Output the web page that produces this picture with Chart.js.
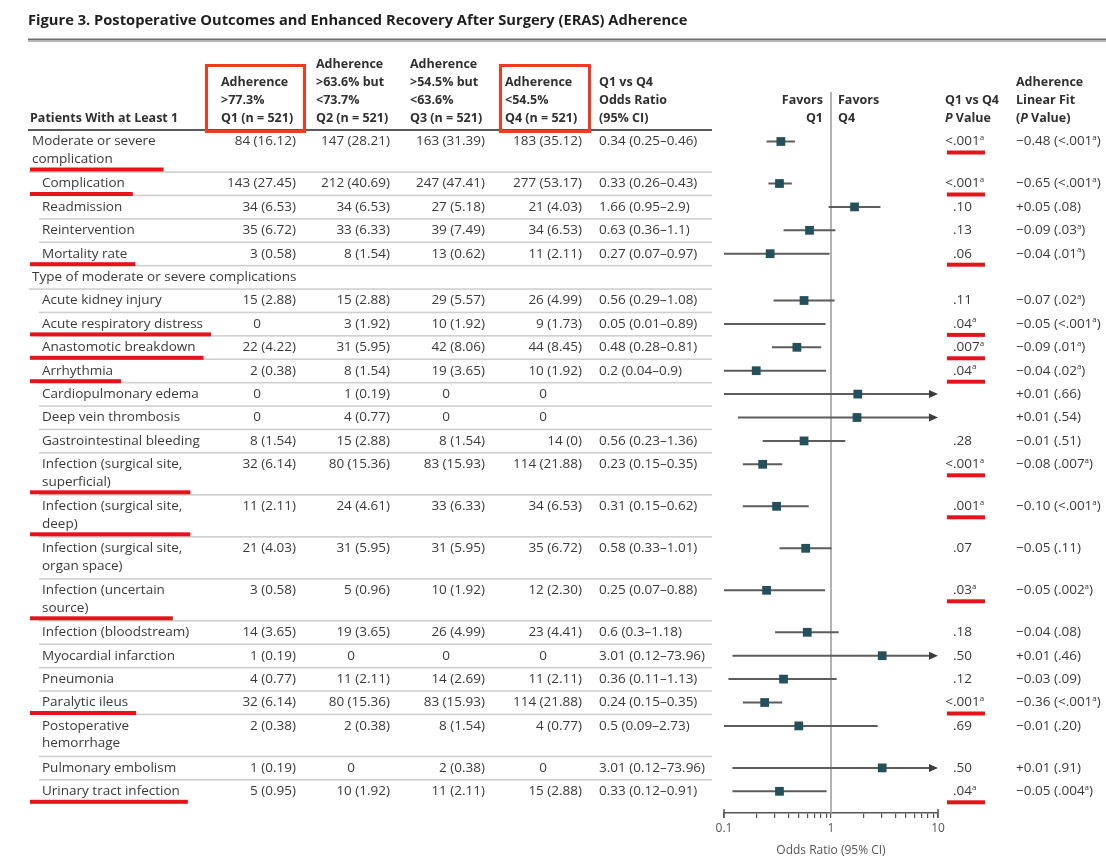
<!DOCTYPE html>
<html>
<head>
<meta charset="utf-8">
<title>Figure 3. Postoperative Outcomes and ERAS Adherence</title>
<script src="https://cdn.jsdelivr.net/npm/chart.js@4/dist/chart.umd.min.js"></script>
<style>
  html, body { margin: 0; padding: 0; background: #fff; }
  #wrap { width: 1106px; height: 862px; }
</style>
</head>
<body>
<div id="wrap"><canvas id="fig" width="1106" height="862"></canvas></div>
<script>
// ---- outcome rows ----
const rowLabels = [
  ["Moderate or severe", "complication"],
  ["Complication"],
  ["Readmission"],
  ["Reintervention"],
  ["Mortality rate"],
  ["Type of moderate or severe complications"],
  ["Acute kidney injury"],
  ["Acute respiratory distress"],
  ["Anastomotic breakdown"],
  ["Arrhythmia"],
  ["Cardiopulmonary edema"],
  ["Deep vein thrombosis"],
  ["Gastrointestinal bleeding"],
  ["Infection (surgical site,", "superficial)"],
  ["Infection (surgical site,", "deep)"],
  ["Infection (surgical site,", "organ space)"],
  ["Infection (uncertain", "source)"],
  ["Infection (bloodstream)"],
  ["Myocardial infarction"],
  ["Pneumonia"],
  ["Paralytic ileus"],
  ["Postoperative", "hemorrhage"],
  ["Pulmonary embolism"],
  ["Urinary tract infection"]
];
// "main" = top-level outcome, "group" = section heading, "sub" = indented item
const rowKind = ["main", "sub", "sub", "sub", "sub", "group",
  "sub", "sub", "sub", "sub", "sub", "sub", "sub", "sub", "sub", "sub", "sub", "sub",
  "sub", "sub", "sub", "sub", "sub", "sub"];

// ---- counts, No. (%) per adherence quartile ----
const q1Values = ["84 (16.12)", "143 (27.45)", "34 (6.53)", "35 (6.72)", "3 (0.58)", null,
  "15 (2.88)", "0", "22 (4.22)", "2 (0.38)", "0", "0", "8 (1.54)", "32 (6.14)", "11 (2.11)",
  "21 (4.03)", "3 (0.58)", "14 (3.65)", "1 (0.19)", "4 (0.77)", "32 (6.14)", "2 (0.38)",
  "1 (0.19)", "5 (0.95)"];
const q2Values = ["147 (28.21)", "212 (40.69)", "34 (6.53)", "33 (6.33)", "8 (1.54)", null,
  "15 (2.88)", "3 (1.92)", "31 (5.95)", "8 (1.54)", "1 (0.19)", "4 (0.77)", "15 (2.88)",
  "80 (15.36)", "24 (4.61)", "31 (5.95)", "5 (0.96)", "19 (3.65)", "0", "11 (2.11)",
  "80 (15.36)", "2 (0.38)", "0", "10 (1.92)"];
const q3Values = ["163 (31.39)", "247 (47.41)", "27 (5.18)", "39 (7.49)", "13 (0.62)", null,
  "29 (5.57)", "10 (1.92)", "42 (8.06)", "19 (3.65)", "0", "0", "8 (1.54)", "83 (15.93)",
  "33 (6.33)", "31 (5.95)", "10 (1.92)", "26 (4.99)", "0", "14 (2.69)", "83 (15.93)",
  "8 (1.54)", "2 (0.38)", "11 (2.11)"];
const q4Values = ["183 (35.12)", "277 (53.17)", "21 (4.03)", "34 (6.53)", "11 (2.11)", null,
  "26 (4.99)", "9 (1.73)", "44 (8.45)", "10 (1.92)", "0", "0", "14 (0)", "114 (21.88)",
  "34 (6.53)", "35 (6.72)", "12 (2.30)", "23 (4.41)", "0", "11 (2.11)", "114 (21.88)",
  "4 (0.77)", "0", "15 (2.88)"];

// ---- Q1 vs Q4 odds ratio and 95% CI (null upper bound = open-ended) ----
const oddsRatio = [0.34, 0.33, 1.66, 0.63, 0.27, null, 0.56, 0.05, 0.48, 0.2, 1.78, 1.75,
  0.56, 0.23, 0.31, 0.58, 0.25, 0.6, 3.01, 0.36, 0.24, 0.5, 3.01, 0.33];
const ciLower = [0.25, 0.26, 0.95, 0.36, 0.07, null, 0.29, 0.01, 0.28, 0.04, 0.1, 0.135,
  0.23, 0.15, 0.15, 0.33, 0.07, 0.3, 0.12, 0.11, 0.15, 0.09, 0.12, 0.12];
const ciUpper = [0.46, 0.43, 2.9, 1.1, 0.97, null, 1.08, 0.89, 0.81, 0.9, null, null,
  1.36, 0.35, 0.62, 1.01, 0.88, 1.18, 73.96, 1.13, 0.35, 2.73, 73.96, 0.91];
// rows whose odds ratio is printed in the table column
const orPrinted = [true, true, true, true, true, false, true, true, true, true, false, false,
  true, true, true, true, true, true, true, true, true, true, true, true];

// ---- P values ("a" suffix = footnote marker) ----
const pValues = ["<.001a", "<.001a", ".10", ".13", ".06", null, ".11", ".04a", ".007a", ".04a",
  null, null, ".28", "<.001a", ".001a", ".07", ".03a", ".18", ".50", ".12", "<.001a", ".69",
  ".50", ".04a"];
const fitSlope = ["\u22120.48", "\u22120.65", "+0.05", "\u22120.09", "\u22120.04", null,
  "\u22120.07", "\u22120.05", "\u22120.09", "\u22120.04", "+0.01", "+0.01", "\u22120.01",
  "\u22120.08", "\u22120.10", "\u22120.05", "\u22120.05", "\u22120.04", "+0.01", "\u22120.03",
  "\u22120.36", "\u22120.01", "+0.01", "\u22120.05"];
const fitP = ["<.001a", "<.001a", ".08", ".03a", ".01a", null, ".02a", "<.001a", ".01a", ".02a",
  ".66", ".54", ".51", ".007a", "<.001a", ".11", ".002a", ".08", ".46", ".09", "<.001a", ".20",
  ".91", ".004a"];

// rows marked in red
const flagged = [true, true, false, false, true, false, false, true, true, true, false, false,
  false, true, true, false, true, false, false, false, true, false, false, true];

// ---- axis ----
const axisMajorTicks = [0.1, 1, 10];
const axisTitle = "Odds Ratio (95% CI)";
const figureTitle = "Figure 3. Postoperative Outcomes and Enhanced Recovery After Surgery (ERAS) Adherence";

// ---- layout ----
const FAMILY = '"Open Sans", "Noto Sans", sans-serif';
const BODY = 13.5, HEAD = 12.5;
const TABLE_TOP = 130, AXIS_Y = 813;
const ROW_H = 23.4, LINE_STEP = 18.6, TEXT_OFF = 11.5, SUBLINE = 17.5;
const TABLE_RIGHT = 712;
const COL = { label: 32, sub: 42, q1: 296, q2: 390, q3: 485, q4: 582, or: 599, pDot: 953, fit: 1016 };

const rowTop = [];
(function () {
  let acc = 0;
  rowLabels.forEach(lines => { rowTop.push(acc); acc += ROW_H + (lines.length - 1) * LINE_STEP; });
})();
const rowMid = rowTop.map(t => t + TEXT_OFF);

// minor + major log ticks for 0.1..10
const axisTicks = [];
axisMajorTicks.slice(0, -1).forEach(m => { for (let k = 1; k < 10; k++) axisTicks.push(+(m * k).toPrecision(3)); });
axisTicks.push(axisMajorTicks[axisMajorTicks.length - 1]);

function fmtOR(i) {
  return `${oddsRatio[i]} (${ciLower[i]}\u2013${ciUpper[i]})`;
}
function withFoot(p) {
  return p.endsWith('a') ? [{ t: p.slice(0, -1) }, { t: 'a', sup: true }] : [{ t: p }];
}
function fontStr(seg, size, weight) {
  if (seg.sup) return `${weight} ${Math.round(size * 0.62)}px ${FAMILY}`;
  return `${seg.italic ? 'italic ' : ''}${weight} ${size}px ${FAMILY}`;
}
function segWidth(ctx, segs, size, weight) {
  let w = 0;
  segs.forEach(s => { ctx.font = fontStr(s, size, weight); w += ctx.measureText(s.t).width; });
  return w;
}
function drawSegs(ctx, segs, x, y, size, weight, align) {
  let cx = x;
  if (align === 'right') cx = x - segWidth(ctx, segs, size, weight);
  if (align === 'center') cx = x - segWidth(ctx, segs, size, weight) / 2;
  ctx.textAlign = 'left';
  segs.forEach(s => {
    ctx.font = fontStr(s, size, weight);
    ctx.fillText(s.t, cx, s.sup ? y - 4 : y);
    cx += ctx.measureText(s.t).width;
  });
  return cx;
}

const tablePlugin = {
  id: 'outcomeTable',
  beforeDraw(chart) {
    const { ctx, scales: { x, y } } = chart;
    ctx.save();
    ctx.textBaseline = 'middle';

    // figure title + double rule
    ctx.fillStyle = '#1e1e1e';
    ctx.font = `bold 14.7px ${FAMILY}`;
    ctx.textAlign = 'left';
    ctx.fillText(figureTitle, 28, 21);
    ctx.fillStyle = '#6e6e6e';
    ctx.fillRect(28, 38.5, 1078, 2);
    ctx.fillStyle = '#b4b4b4';
    ctx.fillRect(28, 41, 1078, 1);

    // column headers (stacked from the bottom line up)
    ctx.fillStyle = '#303030';
    const headY = i => 118 - i * 18;
    const header = (lines, xx, align) => {
      lines.slice().reverse().forEach((ln, i) => {
        const segs = Array.isArray(ln) ? ln : [{ t: ln }];
        drawSegs(ctx, segs, xx, headY(i), HEAD, 'bold', align || 'left');
      });
    };
    header(["Patients With at Least 1"], 30);
    header(["Adherence", ">77.3%", "Q1 (n = 521)"], 221);
    header(["Adherence", ">63.6% but", "<73.7%", "Q2 (n = 521)"], 316);
    header(["Adherence", ">54.5% but", "<63.6%", "Q3 (n = 521)"], 410);
    header(["Adherence", "<54.5%", "Q4 (n = 521)"], 505);
    header(["Q1 vs Q4", "Odds Ratio", "(95% CI)"], COL.or);
    const one = x.getPixelForValue(1);
    header(["Favors", "Q1"], one - 8, 'right');
    header(["Favors", "Q4"], one + 7);
    header(["Q1 vs Q4", [{ t: "P", italic: true }, { t: " Value" }]], 945);
    header(["Adherence", "Linear Fit", [{ t: "(" }, { t: "P", italic: true }, { t: " Value)" }]], COL.fit);

    // rule under the header
    ctx.fillStyle = '#5a5a5a';
    ctx.fillRect(28, TABLE_TOP - 1, TABLE_RIGHT - 28, 2);

    // body rows
    rowLabels.forEach((lines, i) => {
      const yMid = y.getPixelForValue(rowMid[i]);
      const lx = rowKind[i] === 'sub' ? COL.sub : COL.label;
      ctx.fillStyle = '#3a3a3a';
      ctx.font = `${BODY}px ${FAMILY}`;
      ctx.textAlign = 'left';
      lines.forEach((ln, k) => ctx.fillText(ln, lx, yMid + k * SUBLINE));

      [[q1Values, COL.q1], [q2Values, COL.q2], [q3Values, COL.q3], [q4Values, COL.q4]].forEach(([arr, right]) => {
        const v = arr[i];
        if (v == null) return;
        if (v === "0") { ctx.textAlign = 'center'; ctx.fillText(v, right - 39, yMid); }
        else { ctx.textAlign = 'right'; ctx.fillText(v, right, yMid); }
      });
      if (orPrinted[i]) { ctx.textAlign = 'left'; ctx.fillText(fmtOR(i), COL.or, yMid); }

      if (pValues[i]) {
        const p = pValues[i];
        if (p.startsWith('<')) {
          drawSegs(ctx, [{ t: '<' }], COL.pDot, yMid, BODY, 'normal', 'right');
          drawSegs(ctx, withFoot(p.slice(1)), COL.pDot, yMid, BODY, 'normal', 'left');
        } else {
          drawSegs(ctx, withFoot(p), COL.pDot, yMid, BODY, 'normal', 'left');
        }
      }
      if (fitSlope[i]) {
        const segs = [{ t: fitSlope[i] + ' (' }, ...withFoot(fitP[i]), { t: ')' }];
        drawSegs(ctx, segs, COL.fit, yMid, BODY, 'normal', 'left');
      }

      // row separator
      if (i < rowLabels.length - 1) {
        const sepY = y.getPixelForValue(rowTop[i + 1]);
        ctx.fillStyle = '#cfcfcf';
        ctx.fillRect(lx - 3, sepY - 0.75, TABLE_RIGHT - lx + 3, 1.6);
      }
    });
    ctx.restore();
  },
  afterDraw(chart) {
    const { ctx, scales: { x, y } } = chart;
    ctx.save();
    // longer end ticks at 0.1 and 10
    ctx.strokeStyle = '#555';
    ctx.lineWidth = 1.5;
    [x.min, x.max].forEach(v => {
      const px = x.getPixelForValue(v);
      ctx.beginPath();
      ctx.moveTo(px, AXIS_Y - 4);
      ctx.lineTo(px, AXIS_Y + 5);
      ctx.stroke();
    });
    // boxes around the Q1 and Q4 headers
    ctx.strokeStyle = '#ef3b22';
    ctx.lineWidth = 3;
    ctx.strokeRect(206.5, 65.5, 98, 66);
    ctx.strokeRect(500.5, 65.5, 89, 66);
    // red underlines on flagged rows
    ctx.fillStyle = '#e5141c';
    rowLabels.forEach((lines, i) => {
      if (!flagged[i]) return;
      const yMid = y.getPixelForValue(rowMid[i]);
      const lx = rowKind[i] === 'sub' ? COL.sub : COL.label;
      ctx.font = `${BODY}px ${FAMILY}`;
      const w = Math.max(...lines.map(l => ctx.measureText(l).width));
      const lastY = yMid + (lines.length - 1) * SUBLINE;
      ctx.fillRect(30, lastY + 8.5, lx + w + 8 - 30, 4);
      ctx.fillRect(COL.pDot - 6, yMid + 9, 38, 4);
    });
    ctx.restore();
  }
};

const intervalPlugin = {
  id: 'ciWhiskers',
  beforeDatasetsDraw(chart) {
    const { ctx, scales: { x, y } } = chart;
    ctx.save();
    // no-effect line at OR = 1, running up through the "Favors" header
    const one = x.getPixelForValue(1);
    ctx.strokeStyle = '#9a9a9a';
    ctx.lineWidth = 1.5;
    ctx.beginPath();
    ctx.moveTo(one, 92);
    ctx.lineTo(one, AXIS_Y);
    ctx.stroke();

    ctx.strokeStyle = '#5c5c5c';
    ctx.fillStyle = '#3c3c3c';
    ctx.lineWidth = 2;
    oddsRatio.forEach((or, i) => {
      if (or == null) return;
      const lo = Math.max(ciLower[i], x.min);
      const open = ciUpper[i] == null || ciUpper[i] > x.max;
      const hi = open ? x.max : ciUpper[i];
      const x0 = x.getPixelForValue(lo);
      const x1 = x.getPixelForValue(hi);
      const py = y.getPixelForValue(rowMid[i]);
      ctx.beginPath();
      ctx.moveTo(x0, py);
      ctx.lineTo(open ? x1 - 6 : x1, py);
      ctx.stroke();
      if (open) {
        ctx.beginPath();
        ctx.moveTo(x1, py);
        ctx.lineTo(x1 - 9, py - 4);
        ctx.lineTo(x1 - 9, py + 4);
        ctx.closePath();
        ctx.fill();
      }
    });
    ctx.restore();
  }
};

const points = [];
oddsRatio.forEach((v, i) => { if (v != null) points.push({ x: v, y: rowMid[i] }); });

new Chart(document.getElementById('fig'), {
  type: 'scatter',
  data: {
    datasets: [{
      label: 'Odds ratio',
      data: points,
      pointStyle: 'rect',
      pointRadius: 6.2,
      backgroundColor: '#24505c',
      borderWidth: 0
    }]
  },
  options: {
    responsive: false,
    animation: false,
    events: [],
    layout: { padding: { left: 724, right: 168, top: TABLE_TOP, bottom: 0 } },
    plugins: { legend: { display: false }, tooltip: { enabled: false } },
    scales: {
      x: {
        type: 'logarithmic',
        min: 0.1,
        max: 10,
        afterBuildTicks: s => { s.ticks = axisTicks.map(v => ({ value: v, major: axisMajorTicks.includes(v) })); },
        afterFit: s => { s.height = 862 - AXIS_Y; },
        ticks: {
          autoSkip: false,
          maxRotation: 0,
          padding: 3,
          color: '#555',
          font: { family: FAMILY, size: 12 },
          callback: v => axisMajorTicks.includes(v) ? String(v) : ''
        },
        grid: { display: true, drawOnChartArea: false, drawTicks: true, tickLength: 5, color: '#555', lineWidth: 1.2 },
        border: { display: true, color: '#555', width: 1.5 },
        title: { display: true, text: axisTitle, color: '#555', font: { family: FAMILY, size: 12 }, padding: { top: 2, bottom: 4 } }
      },
      y: { display: false, min: 0, max: AXIS_Y - TABLE_TOP, reverse: true }
    }
  },
  plugins: [tablePlugin, intervalPlugin]
});
</script>
</body>
</html>
